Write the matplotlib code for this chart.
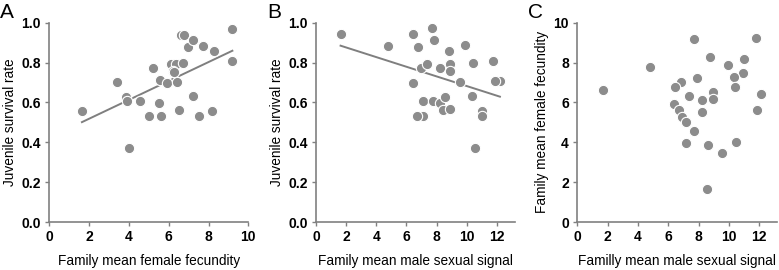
import numpy as np
import matplotlib
matplotlib.use('Agg')
import matplotlib.pyplot as plt

plt.rcParams['font.family'] = ['Liberation Sans', 'DejaVu Sans']

# A: female fecundity vs juvenile survival
fec_a = [1.64, 3.42, 3.85, 3.9, 4.0, 4.56, 4.99, 5.21, 5.49, 5.59, 5.56, 5.9, 6.1, 6.35,
         6.2, 6.4, 6.5, 6.7, 6.6, 6.77, 6.98, 7.2, 7.2, 7.52, 7.74, 8.17, 8.29, 9.2, 9.2, 6.25]
surv_a = [0.557, 0.704, 0.629, 0.607, 0.371, 0.609, 0.532, 0.773, 0.599, 0.532, 0.712, 0.699,
          0.793, 0.793, 0.76, 0.704, 0.562, 0.796, 0.94, 0.94, 0.876, 0.913, 0.632, 0.532,
          0.883, 0.557, 0.86, 0.97, 0.806, 0.754]

# B: male signal vs juvenile survival
sig_b = [1.63, 4.77, 6.45, 6.42, 6.78, 6.95, 7.33, 7.1, 7.1, 6.69, 7.7, 7.86, 7.73, 8.2,
         8.2, 8.4, 8.56, 8.79, 8.92, 8.87, 8.92, 9.54, 9.91, 10.42, 10.38, 10.53, 11.0,
         11.0, 11.74, 12.2, 11.88]
surv_b = [0.941, 0.883, 0.941, 0.699, 0.876, 0.774, 0.793, 0.607, 0.53, 0.53, 0.972, 0.913,
          0.609, 0.774, 0.599, 0.562, 0.629, 0.86, 0.793, 0.759, 0.565, 0.704, 0.886,
          0.796, 0.634, 0.37, 0.557, 0.53, 0.808, 0.707, 0.707]

# C: male signal vs female fecundity
sig_c = [1.67, 4.82, 7.68, 8.77, 9.96, 11.0, 11.78, 10.96, 10.37, 10.44, 7.89, 6.84, 6.45,
         7.37, 8.2, 8.95, 8.95, 6.38, 6.71, 6.93, 7.15, 8.2, 7.72, 7.15, 8.6, 9.56, 10.48,
         8.53, 12.15, 11.89]
fec_c = [6.62, 7.76, 9.2, 8.29, 7.86, 8.19, 9.25, 7.49, 7.26, 6.76, 7.22, 7.02, 6.79,
         6.32, 6.12, 6.52, 6.15, 5.92, 5.62, 5.25, 5.02, 5.52, 4.58, 3.95, 3.88, 3.44, 4.01,
         1.67, 6.42, 5.62]

dot = '#8c8c8c'
W, H = 779, 270
fig = plt.figure(figsize=(W / 100, H / 100), dpi=100)

panels = [
    ('A', 49.3, 199, fec_a, surv_a, (0, 10), np.arange(0, 11, 2), (0, 1.0),
     np.arange(0, 1.01, 0.2), '%.1f', 'Family mean female fecundity', 'Juvenile survival rate', True),
    ('B', 316, 199, sig_b, surv_b, (0, 13.2), np.arange(0, 13, 2), (0, 1.0),
     np.arange(0, 1.01, 0.2), '%.1f', 'Family mean male sexual signal', 'Juvenile survival rate', True),
    ('C', 577.3, 200, sig_c, fec_c, (0, 13.2), np.arange(0, 13, 2), (0, 10),
     np.arange(0, 11, 2), '%d', 'Familly mean male sexual signal', 'Family mean female fecundity', False),
]

for letter, left, width, x, y, xl, xt, yl, yt, fmt, xlab, ylab, fit in panels:
    ax = fig.add_axes([left / W, 1 - 222 / H, width / W, 199.3 / H])
    ax.scatter(x, y, s=55, color=dot, edgecolors='white', linewidths=0.8, zorder=3, clip_on=False)
    if fit:
        k, b = np.polyfit(x, y, 1)
        xx = np.array([min(x), max(x)])
        ax.plot(xx, k * xx + b, color='#7f7f7f', lw=1.4, zorder=2)
    ax.set_xlim(*xl)
    ax.set_ylim(*yl)
    ax.set_xticks(xt)
    ax.set_yticks(yt)
    ax.set_yticklabels([fmt % v for v in yt])
    for lab in ax.get_xticklabels() + ax.get_yticklabels():
        lab.set_fontweight('bold')
    for s in ['top', 'right']:
        ax.spines[s].set_visible(False)
    for s in ['left', 'bottom']:
        ax.spines[s].set_color('#808080')
        ax.spines[s].set_linewidth(1.2)
    ax.tick_params(direction='out', length=3, width=1, color='#808080',
                   labelsize=10, labelcolor='black', pad=3)
    ax.set_xlabel(xlab, fontsize=9.8, labelpad=7)
    ax.set_ylabel(ylab, fontsize=9.8, labelpad=3)
    fig.text((left - 49) / W, 1 - 3 / H, letter, fontsize=15, va='top', ha='left')

fig.savefig('out.png', dpi=100)
